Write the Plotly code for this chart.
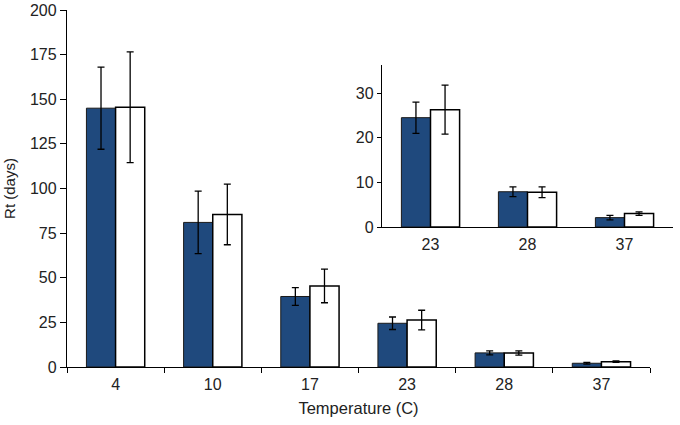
import plotly.graph_objects as go

categories = ["4", "10", "17", "23", "28", "37"]
blue_vals = [145, 81, 39.5, 24.5, 7.9, 2.1]
blue_err = [23, 17.5, 5, 3.5, 1.1, 0.5]
white_vals = [145.5, 85.5, 45.4, 26.3, 7.8, 3.0]
white_err = [31, 17, 9.4, 5.5, 1.2, 0.4]

inset_categories = ["23", "28", "37"]
inset_blue = [24.5, 7.9, 2.1]
inset_blue_err = [3.5, 1.1, 0.5]
inset_white = [26.3, 7.8, 3.0]
inset_white_err = [5.5, 1.2, 0.4]

main_ticks = [0, 25, 50, 75, 100, 125, 150, 175, 200]
inset_ticks = [0, 10, 20, 30]

BLUE = "#1f497d"
FONT = "Liberation Sans, Arial, sans-serif"

def err(vals):
    return dict(type="data", array=vals, visible=True, color="black", thickness=1.3, width=3.5)

fig = go.Figure()
fig.add_trace(go.Bar(x=categories, y=blue_vals, error_y=err(blue_err),
                     marker=dict(color=BLUE, line=dict(color="#1a1a1a", width=1)),
                     xaxis="x", yaxis="y", showlegend=False))
fig.add_trace(go.Bar(x=categories, y=white_vals, error_y=err(white_err),
                     marker=dict(color="white", line=dict(color="black", width=1.5)),
                     xaxis="x", yaxis="y", showlegend=False))
fig.add_trace(go.Bar(x=inset_categories, y=inset_blue, error_y=err(inset_blue_err),
                     marker=dict(color=BLUE, line=dict(color="#1a1a1a", width=1)),
                     xaxis="x2", yaxis="y2", showlegend=False))
fig.add_trace(go.Bar(x=inset_categories, y=inset_white, error_y=err(inset_white_err),
                     marker=dict(color="white", line=dict(color="black", width=1.5)),
                     xaxis="x2", yaxis="y2", showlegend=False))

W, H = 680, 425
ml, mr, mt, mb = 67, 5, 10, 58
pw = W - ml - mr
ph = H - mt - mb

fig.update_layout(
    width=W, height=H,
    margin=dict(l=ml, r=mr, t=mt, b=mb, autoexpand=False),
    paper_bgcolor="white", plot_bgcolor="white",
    barmode="group", bargap=0.4, bargroupgap=0,
    font=dict(family=FONT, size=16, color="#222"),
    xaxis=dict(domain=[0, 583 / pw], type="category", showline=True, linecolor="black", linewidth=1.3,
               ticks="outside", tickson="boundaries", ticklen=5, tickcolor="black",
               ticklabelstandoff=3,
               showgrid=False, zeroline=False, automargin=False,
               title=dict(text="Temperature (C)", font=dict(size=16.5), standoff=10)),
    yaxis=dict(domain=[0, 1], range=[0, 200], tickvals=main_ticks, showline=True, linecolor="black",
               linewidth=1.3, ticks="outside", ticklen=6, tickcolor="black", showgrid=False,
               zeroline=False, automargin=False,
               title=dict(text="Rt (days)", font=dict(size=15), standoff=10)),
    xaxis2=dict(domain=[(382 - ml) / pw, (673 - ml) / pw], anchor="y2", type="category",
                showline=True, linecolor="black", linewidth=1.3, ticks="", showgrid=False,
                zeroline=False, automargin=False, ticklabelstandoff=3),
    yaxis2=dict(domain=[(367 - 227) / ph, (367 - 65) / ph], anchor="x2", range=[0, 36.3],
                tickvals=inset_ticks, showline=True, linecolor="black", linewidth=1.3,
                ticks="outside", ticklen=4, tickcolor="black", showgrid=False, zeroline=False,
                automargin=False),
)

fig.write_html("out.html", config={"displayModeBar": False})

with open("out.html", encoding="utf-8") as f:
    html = f.read()
html = html.replace("<head>", "<head><style>html,body{margin:0;padding:0;overflow:hidden}</style>", 1)
with open("out.html", "w", encoding="utf-8") as f:
    f.write(html)
